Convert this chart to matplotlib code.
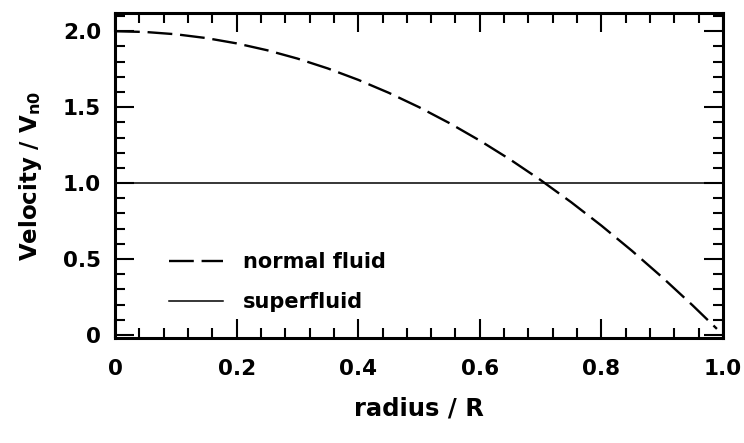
import matplotlib
matplotlib.use('Agg')
import matplotlib.pyplot as plt
from matplotlib.ticker import MultipleLocator

# Data
radius = [0.0, 0.05, 0.1, 0.15, 0.2, 0.25, 0.3, 0.35, 0.4, 0.45, 0.5, 0.55,
          0.6, 0.65, 0.7, 0.75, 0.8, 0.85, 0.9, 0.95, 0.99]
normal = [2.0, 1.995, 1.98, 1.955, 1.92, 1.875, 1.82, 1.755, 1.68, 1.595, 1.5, 1.395,
          1.28, 1.155, 1.02, 0.875, 0.72, 0.555, 0.38, 0.195, 0.04]
super_r = [0.0, 1.0]
super_v = [1.0, 1.0]

xticks = [0, 0.2, 0.4, 0.6, 0.8, 1.0]
xtick_labels = ['0', '0.2', '0.4', '0.6', '0.8', '1.0']
yticks = [0, 0.5, 1.0, 1.5, 2.0]
ytick_labels = ['0', '0.5', '1.0', '1.5', '2.0']

plt.rcParams['font.family'] = ['DejaVu Sans']
plt.rcParams['font.weight'] = 'bold'
plt.rcParams['axes.labelweight'] = 'bold'
plt.rcParams['mathtext.fontset'] = 'dejavusans'
plt.rcParams['mathtext.default'] = 'bf'

fig = plt.figure(figsize=(7.44, 4.43), dpi=100)
ax = fig.add_axes([115/744, 1 - 338/443, 608/744, 325/443])

ax.plot(radius, normal, color='black', linewidth=1.7, dashes=(10.5, 3.3), label='normal fluid')
ax.plot(super_r, super_v, color='black', linewidth=1.1, label='superfluid')

ax.set_xlim(0, 1.0)
ax.set_ylim(-0.02, 2.12)
ax.xaxis.set_minor_locator(MultipleLocator(0.04))
ax.yaxis.set_minor_locator(MultipleLocator(0.1))
ax.set_xticks(xticks)
ax.set_xticklabels(xtick_labels)
ax.set_yticks(yticks)
ax.set_yticklabels(ytick_labels)

ax.tick_params(which='both', direction='in', top=True, right=True, width=1.5, labelsize=15.5)
ax.tick_params(axis='x', pad=15)
ax.tick_params(axis='y', pad=10)
ax.tick_params(which='major', length=14)
ax.tick_params(which='minor', length=7)
for s in ax.spines.values():
    s.set_linewidth(2.2)

ax.set_xlabel('radius / R', fontsize=17.5, labelpad=13)
ax.set_ylabel('Velocity / V$_{\\mathbf{n0}}$', fontsize=16.5, labelpad=14)

leg = ax.legend(loc='lower left', bbox_to_anchor=(0.065, 0.035), frameon=False, fontsize=15,
                handlelength=2.6, handletextpad=0.95, labelspacing=0.95, borderpad=0.2)

plt.savefig('out.png', dpi=100)
